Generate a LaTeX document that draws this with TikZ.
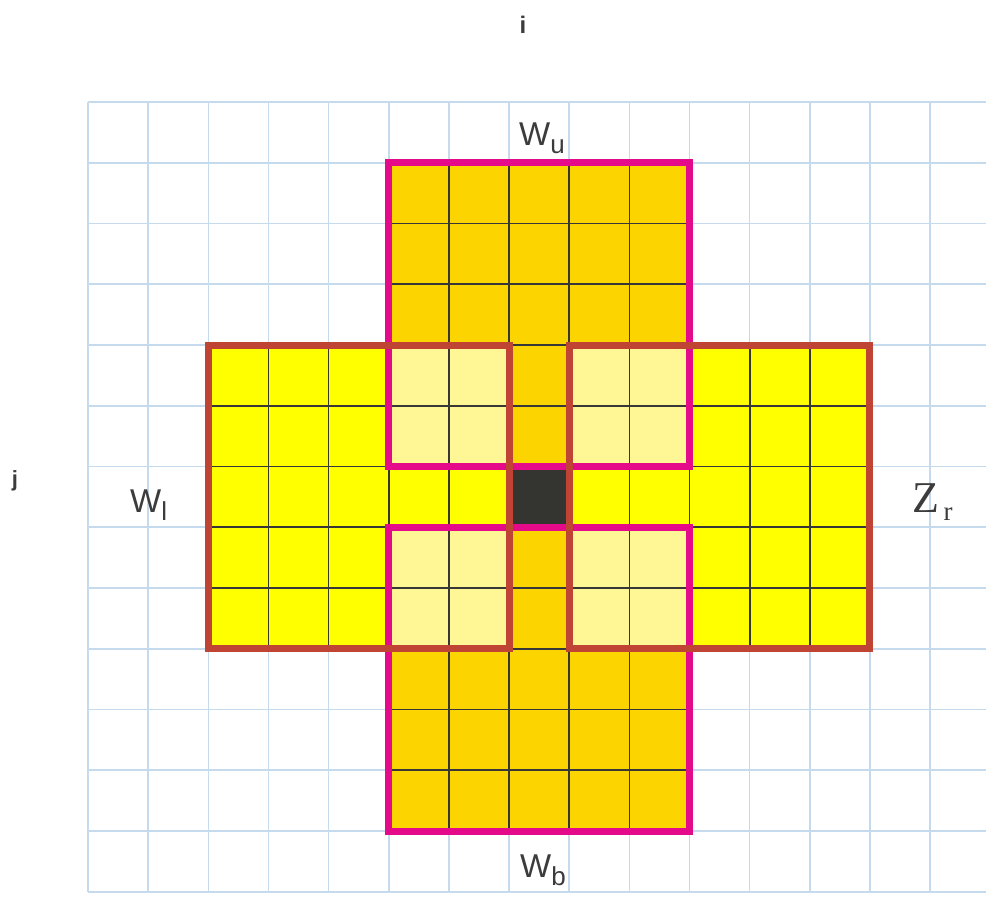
\documentclass[tikz,border=0pt]{standalone}
\usepackage{fontspec}
\setmainfont{Liberation Sans}
\newfontfamily\serifZ{Liberation Serif}
\definecolor{gridblue}{RGB}{198,218,238}
\definecolor{goldcell}{RGB}{252,212,0}
\definecolor{yelcell}{RGB}{255,255,0}
\definecolor{lightcell}{RGB}{255,246,150}
\definecolor{darkcell}{RGB}{52,52,48}
\definecolor{celline}{RGB}{55,55,55}
\definecolor{magentaline}{RGB}{228,10,138}
\definecolor{brownline}{RGB}{192,68,52}
\definecolor{labelgray}{RGB}{60,60,60}
\tikzset{
  gridline/.style={draw=gridblue, line width=1.6pt},
  cellline/.style={draw=celline, line width=1.7pt},
  magbox/.style={draw=magentaline, line width=7pt},
  brownbox/.style={draw=brownline, line width=7pt},
  lbl/.style={inner sep=0pt, text=labelgray, anchor=base west},
}
\begin{document}
\begin{tikzpicture}[x=1pt,y=-1pt]
\useasboundingbox (0,0) rectangle (986,898);
\fill[white] (0,0) rectangle (986,898);
\begin{scope}[shift={(88pt,-102pt)}, x=60.15pt, y=-60.75pt]
  % light blue grid
  \foreach \c in {0,...,14} \draw[gridline] (\c,0) -- (\c,13);
  \foreach \r in {0,...,13} \draw[gridline] (0,\r) -- (14.95,\r);
  % cell fills
  \fill[goldcell] (5,1) rectangle (10,4);
  \fill[goldcell] (5,9) rectangle (10,12);
  \fill[goldcell] (7,4) rectangle (8,9);
  \fill[yelcell] (2,4) rectangle (5,9);
  \fill[yelcell] (10,4) rectangle (13,9);
  \fill[yelcell] (5,6) rectangle (7,7);
  \fill[yelcell] (8,6) rectangle (10,7);
  \fill[lightcell] (5,4) rectangle (7,6);
  \fill[lightcell] (8,4) rectangle (10,6);
  \fill[lightcell] (5,7) rectangle (7,9);
  \fill[lightcell] (8,7) rectangle (10,9);
  \fill[darkcell] (7,6) rectangle (8,7);
  % dark cell lines
  \foreach \c in {6,...,9} \draw[cellline] (\c,1) -- (\c,12);
  \foreach \c in {3,4,5,10,11,12} \draw[cellline] (\c,4) -- (\c,9);
  \foreach \r in {2,3,10,11} \draw[cellline] (5,\r) -- (10,\r);
  \foreach \r in {4,...,9} \draw[cellline] (2,\r) -- (13,\r);
  % magenta windows
  \draw[magbox] (5,1) rectangle (10,6);
  \draw[magbox] (5,7) rectangle (10,12);
  % brown windows
  \draw[brownbox] (2,4) rectangle (7,9);
  \draw[brownbox] (8,4) rectangle (13,9);
\end{scope}
% labels
\node[inner sep=0pt, text=labelgray, anchor=base, font=\bfseries\fontsize{24}{24}\selectfont] (ilabel) at (523,33) {i};
\node[inner sep=0pt, text=labelgray, anchor=base, font=\bfseries\fontsize{22}{22}\selectfont] (jlabel) at (15,486) {j};
\node[lbl] (wu) at (519,145) {\fontsize{33}{33}\selectfont W\raisebox{-8pt}{\fontsize{26}{26}\selectfont u}};
\node[lbl] (wl) at (130,512) {\fontsize{33}{33}\selectfont W\raisebox{-8pt}{\fontsize{26}{26}\selectfont l}};
\node[lbl] (wb) at (520,877) {\fontsize{33}{33}\selectfont W\raisebox{-8pt}{\fontsize{26}{26}\selectfont b}};
\node[lbl] (zr) at (912,512) {\serifZ\fontsize{44}{44}\selectfont Z\raisebox{-8pt}{\fontsize{27}{27}\selectfont\,r}};
\end{tikzpicture}
\end{document}
